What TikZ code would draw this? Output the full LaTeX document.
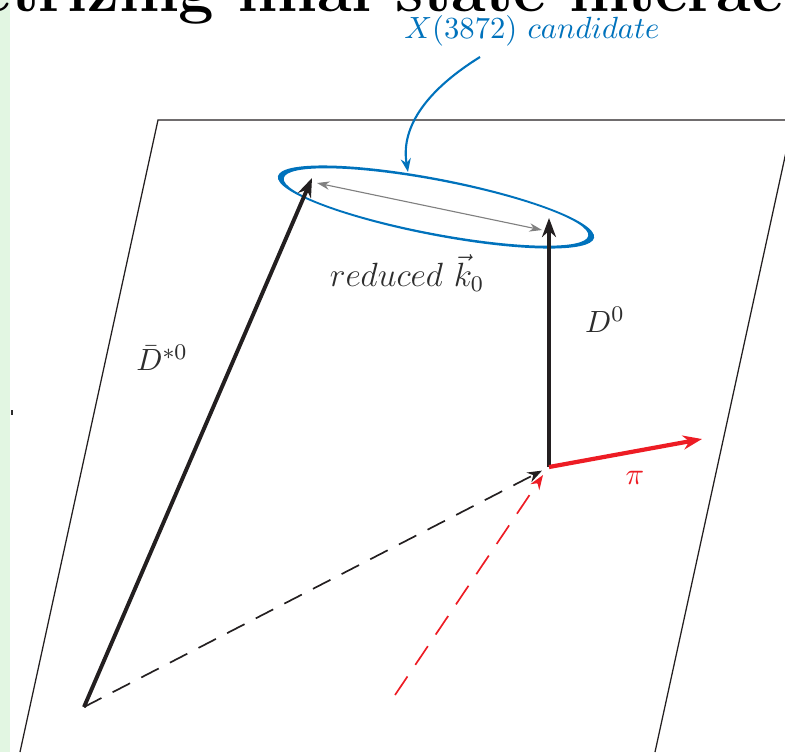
\documentclass[tikz,border=0pt]{standalone}
\usetikzlibrary{arrows.meta}
\definecolor{xblue}{RGB}{0,114,188}
\definecolor{pired}{RGB}{237,28,36}
\definecolor{slidegreen}{RGB}{226,246,226}
\definecolor{labelgray}{RGB}{45,45,45}
\definecolor{vecblack}{RGB}{35,31,32}
\begin{document}
\begin{tikzpicture}[x=0.357pt,y=-0.357pt,
    momentum/.style={vecblack,line width=1.4pt,-{Stealth[length=6.8pt,width=5pt]}},
    incoming/.style={vecblack,line width=0.6pt,-{Stealth[length=5.2pt,width=3.8pt]}},
    lbl/.style={text=labelgray,font=\fontsize{11}{13}\selectfont}]
    \useasboundingbox (0,0) rectangle (785,752);
    \clip (0,0) rectangle (785,752);
    % slide remains
    \fill[slidegreen] (0,0) rectangle (10,752);
    \fill[labelgray] (11,410) rectangle (13,415);
    \node[anchor=base west,inner sep=0,font=\bfseries\fontsize{22.6}{26}\selectfont] (title) at (-22,11) {etrizing final state interactions};
    % plane
    \draw[vecblack,line width=0.45pt] (20,752) -- (158,120) -- (793,120) -- (655,752);
    % vertices
    \coordinate (O) at (549,467);
    \coordinate (B) at (84,707);
    \coordinate (Dtip) at (549,218);
    \coordinate (Stip) at (312,178);
    \coordinate (Ptip) at (702,439);
    \coordinate (R) at (395,695);
    % X(3872) candidate ring
    \begin{scope}[shift={(436,207)}]
        \fill[xblue,even odd rule] [rotate=-11] (0,0) ellipse [x radius=161,y radius=28.5]
            [rotate=0.25] (0,0) ellipse [x radius=155,y radius=26.2];
    \end{scope}
    \draw[gray,line width=0.4pt,{Stealth[length=4.5pt,width=3pt]}-{Stealth[length=4.5pt,width=3pt]}] (317,183) -- (542,230);
    % momenta
    \draw[incoming,dash pattern=on 7pt off 4.5pt] (B) -- ([shift={(-7,3.6)}]O);
    \draw[incoming,pired,dash pattern=on 8pt off 5pt] (R) -- ([shift={(-6,8)}]O);
    \draw[momentum] (B) -- (Stip);
    \draw[momentum] (O) -- (Dtip);
    \draw[momentum,pired,line width=1.5pt] (O) -- (Ptip);
    % labels
    \node[text=xblue,font=\fontsize{11.2}{13}\selectfont] (xlabel) at (532,31) {$X(3872)\ candidate$};
    \coordinate (xfrom) at (480,57);
    \coordinate (xto) at (408,172);
    \draw[xblue,line width=0.75pt,-{Stealth[length=4.8pt,width=3.6pt]}] (xfrom) .. controls (430,88) and (400,125) .. (xto);
    \node[lbl,font=\fontsize{11.7}{13}\selectfont] (kred) at (407,273) {$reduced\ \vec{k}_0$};
    \node[lbl] (dstar) at (162,358) {$\bar{D}^{*0}$};
    \node[lbl] (dzero) at (605,320) {$D^0$};
    \node[text=pired,font=\fontsize{11}{13}\selectfont] (pion) at (635,478) {$\pi$};
\end{tikzpicture}
\end{document}
